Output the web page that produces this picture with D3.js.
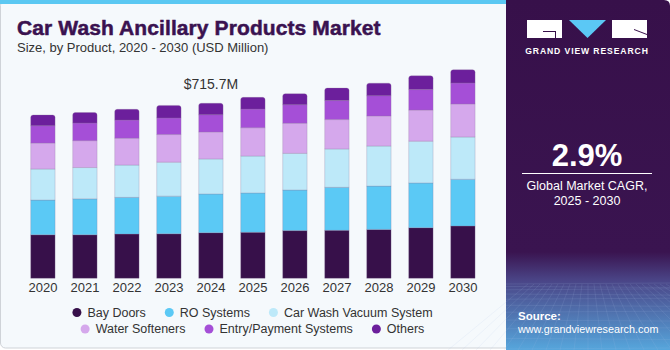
<!DOCTYPE html>
<html>
<head>
<meta charset="utf-8">
<script src="https://cdn.jsdelivr.net/npm/d3@7"></script>
<style>
  html, body { margin: 0; padding: 0; background: #fff; }
  svg { display: block; font-family: "Liberation Sans", Arial, sans-serif; }
</style>
</head>
<body>
<svg id="chart" width="670" height="350"></svg>
<script>
// data (USD Million)
const years = ["2020", "2021", "2022", "2023", "2024", "2025", "2026", "2027", "2028", "2029", "2030"];
const products = ["Bay Doors", "RO Systems", "Car Wash Vacuum System", "Water Softeners", "Entry/Payment Systems", "Others"];
const bayDoors      = [178, 178, 181, 182, 186.6, 188, 195, 196, 200, 207, 214];
const roSystems     = [142, 147, 150, 154, 158.3, 161, 166, 176, 177, 183, 191];
const vacuumSystems = [127, 128, 132, 139, 143.2, 151, 150, 157, 164, 171, 173];
const waterSofteners= [106, 110, 110, 113, 110.4, 116, 123, 120, 123, 127, 135];
const entryPayment  = [71, 72, 74, 68, 70.8, 76, 76, 78, 83, 84, 86];
const others        = [44, 43, 44, 51, 46.4, 48, 45, 51, 51, 56, 54];
const highlightYear = "2024";
const highlightLabel = "$715.7M";
const colors = ["#37104a", "#5bc9f5", "#bde9f9", "#d5a8ec", "#a54fd7", "#6c1f9c"];

const seriesValues = [bayDoors, roSystems, vacuumSystems, waterSofteners, entryPayment, others];
const table = years.map((y, i) => {
    const row = { year: y };
    products.forEach((p, k) => row[p] = seriesValues[k][i]);
    return row;
});

const svg = d3.select("#chart");

// left panel background
svg.append("rect")
    .attr("x", 0.5).attr("y", 0.5)
    .attr("width", 512).attr("height", 347.5)
    .attr("rx", 5)
    .attr("fill", "#f5f9fc")
    .attr("stroke", "#cfd3d8");
svg.append("rect")
    .attr("x", 0).attr("y", 0)
    .attr("width", 506).attr("height", 4)
    .attr("fill", "#5bc8f2");

// title
svg.append("text")
    .attr("x", 17).attr("y", 35)
    .attr("fill", "#3a1250")
    .attr("stroke", "#3a1250")
    .attr("stroke-width", 0.5)
    .style("font-size", "21px")
    .style("font-weight", "bold")
    .style("letter-spacing", "0.1px")
    .text("Car Wash Ancillary Products Market");
svg.append("text")
    .attr("x", 17).attr("y", 52)
    .attr("fill", "#333")
    .style("font-size", "13px")
    .text("Size, by Product, 2020 - 2030 (USD Million)");

// scales
const x = d3.scaleBand()
    .domain(years)
    .range([21.9, 483.9])
    .paddingInner(0.42)
    .paddingOuter(0.21);

const stack = d3.stack().keys(products);
const stacked = stack(table);
const totalOf = y => d3.sum(products, p => table.find(r => r.year === y)[p]);

const y = d3.scaleLinear()
    .domain([0, totalOf(highlightYear)])
    .range([278.3, 103.3]);

const g = svg.append("g");

stacked.forEach((layer, k) => {
    const isTop = k === stacked.length - 1;
    g.append("g")
        .attr("fill", colors[k])
        .selectAll("path")
        .data(layer)
        .join("path")
        .attr("stroke", "#8d7a9c")
        .attr("stroke-opacity", 0.35)
        .attr("stroke-width", 0.8)
        .attr("d", d => {
            const x0 = x(d.data.year), w = x.bandwidth();
            const y0 = y(d[1]), y1 = y(d[0]);
            const r = isTop ? 2.5 : 0;
            return `M${x0},${y1}V${y0 + r}Q${x0},${y0} ${x0 + r},${y0}H${x0 + w - r}Q${x0 + w},${y0} ${x0 + w},${y0 + r}V${y1}Z`;
        });
});

// value annotation
svg.append("text")
    .attr("x", x(highlightYear) + x.bandwidth() / 2)
    .attr("y", y(totalOf(highlightYear)) - 14)
    .attr("text-anchor", "middle")
    .attr("fill", "#333")
    .style("font-size", "14px")
    .text(highlightLabel);

// x axis
const xAxis = svg.append("g")
    .attr("transform", "translate(0,278.3)")
    .call(d3.axisBottom(x).tickSize(0).tickPadding(4));
xAxis.select(".domain").remove();
xAxis.selectAll("text")
    .attr("fill", "#333")
    .style("font-size", "13px")
    .style("font-family", "'Liberation Sans', Arial, sans-serif");

// legend
const legendRows = [products.slice(0, 3), products.slice(3)];
legendRows.forEach((row, ri) => {
    const lg = svg.append("g");
    let cx = 0;
    row.forEach(name => {
        const k = products.indexOf(name);
        const item = lg.append("g").attr("transform", `translate(${cx},0)`);
        item.append("circle").attr("cx", 4.5).attr("cy", 0).attr("r", 4.5).attr("fill", colors[k]);
        const t = item.append("text")
            .attr("x", 15).attr("dy", "0.35em")
            .attr("fill", "#333")
            .style("font-size", "12.5px")
            .text(name);
        cx += 15 + t.node().getComputedTextLength() + 19;
    });
    const w = cx - 19;
    lg.attr("transform", `translate(${252.5 - w / 2},${312.5 + ri * 16.5})`);
});

// right panel
const defs = svg.append("defs");
const grad = defs.append("linearGradient")
    .attr("id", "panelGrad").attr("x1", 0).attr("y1", 0).attr("x2", 0).attr("y2", 1);
grad.append("stop").attr("offset", "0").attr("stop-color", "#37104a");
grad.append("stop").attr("offset", "0.72").attr("stop-color", "#3a1450");
grad.append("stop").attr("offset", "0.8").attr("stop-color", "#4a4486");
grad.append("stop").attr("offset", "1").attr("stop-color", "#56a6dc");

svg.append("path")
    .attr("d", "M506,0H664Q670,0 670,6V350H506Z")
    .attr("fill", "url(#panelGrad)");

// faint grid in the bottom of the panel
const grid = svg.append("g").attr("stroke", "#a9c0ea").attr("stroke-opacity", 0.22).attr("stroke-width", 0.6);
d3.range(0, 14).forEach(i => {
    const yy = 284 + i * i * 0.45 + i * 2;
    grid.append("line").attr("x1", 506).attr("x2", 670).attr("y1", yy).attr("y2", yy + (i % 2 ? 1 : -1));
});
d3.range(-10, 20).forEach(i => {
    const xt = 588 + i * 6;
    const xb = 588 + i * 14;
    grid.append("line").attr("x1", xt).attr("y1", 284).attr("x2", xb).attr("y2", 350);
});

// logo
const logo = svg.append("g");
logo.append("rect").attr("x", 527).attr("y", 20).attr("width", 35).attr("height", 18).attr("fill", "#fff");
logo.append("path").attr("d", "M543,31H556V38H555V32H543Z").attr("fill", "#37104a");
logo.append("path").attr("d", "M569,20H606L587.5,38Z").attr("fill", "#5bc8f5");
logo.append("rect").attr("x", 612).attr("y", 20).attr("width", 35).attr("height", 18).attr("fill", "#fff");
logo.append("path").attr("d", "M634,29L647,34V35L634,30Z").attr("fill", "#37104a");
logo.append("text")
    .attr("x", 587).attr("y", 54)
    .attr("text-anchor", "middle")
    .attr("fill", "#fff")
    .style("font-size", "8.6px")
    .style("font-weight", "bold")
    .style("letter-spacing", "0.9px")
    .text("GRAND VIEW RESEARCH");

svg.append("text")
    .attr("x", 587).attr("y", 166)
    .attr("text-anchor", "middle")
    .attr("fill", "#fff")
    .style("font-size", "31px")
    .style("font-weight", "bold")
    .text("2.9%");
svg.append("line")
    .attr("x1", 522).attr("x2", 652)
    .attr("y1", 173.5).attr("y2", 173.5)
    .attr("stroke", "#fff").attr("stroke-width", 1);
svg.append("text")
    .attr("x", 587).attr("y", 190)
    .attr("text-anchor", "middle")
    .attr("fill", "#fff")
    .style("font-size", "12.5px")
    .text("Global Market CAGR,");
svg.append("text")
    .attr("x", 587).attr("y", 205)
    .attr("text-anchor", "middle")
    .attr("fill", "#fff")
    .style("font-size", "12.5px")
    .text("2025 - 2030");

svg.append("text")
    .attr("x", 518).attr("y", 320)
    .attr("fill", "#fff")
    .style("font-size", "11.5px")
    .style("font-weight", "bold")
    .text("Source:");
svg.append("text")
    .attr("x", 518).attr("y", 333)
    .attr("fill", "#fff")
    .style("font-size", "10.8px")
    .text("www.grandviewresearch.com");
</script>
</body>
</html>
